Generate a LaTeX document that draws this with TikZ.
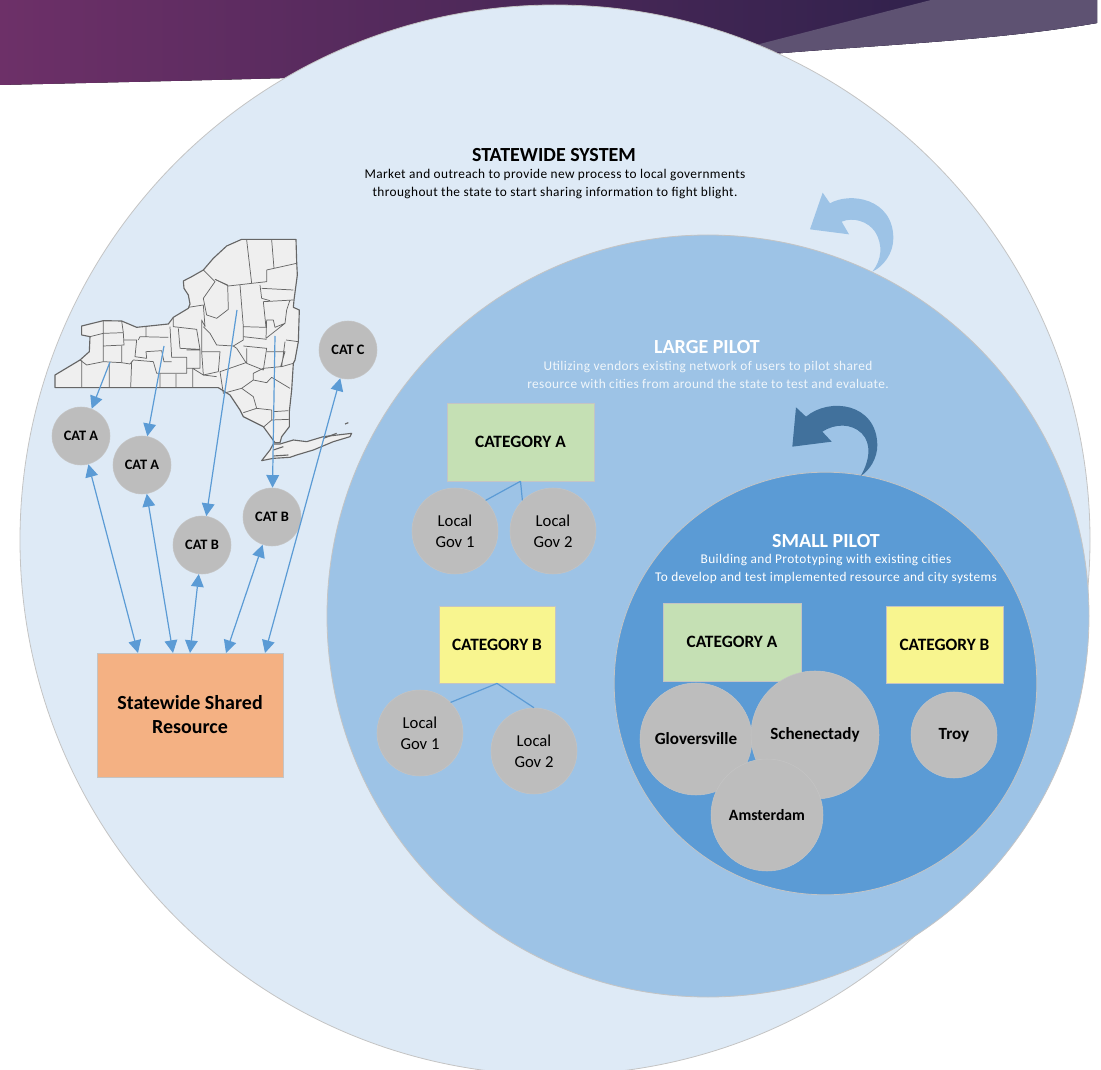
\documentclass[tikz,border=0pt]{standalone}
\usepackage{fontspec}
\usepackage{xcolor}
\setmainfont{Carlito}
\newfontfamily\spaced[LetterSpace=3]{Carlito}
\usetikzlibrary{arrows.meta}
\definecolor{outerfill}{HTML}{DEEAF6}
\definecolor{largefill}{HTML}{9DC3E6}
\definecolor{smallfill}{HTML}{5B9BD5}
\definecolor{turndark}{HTML}{41719C}
\definecolor{cirfill}{HTML}{BDBDBD}
\definecolor{ringline}{HTML}{C4C4C4}
\definecolor{catgreen}{HTML}{C5E0B4}
\definecolor{catyellow}{HTML}{F8F58F}
\definecolor{resfill}{HTML}{F4B183}
\definecolor{mapfill}{HTML}{EFEFEF}
\definecolor{mapline}{HTML}{666666}
\definecolor{bandleft}{HTML}{6D3068}
\definecolor{bandright}{HTML}{261F47}
\definecolor{bandlight}{HTML}{5E5272}
\begin{document}
\begin{tikzpicture}%
  [x=0.75pt,y=-0.75pt]
  \tikzstyle{ring node}=[circle,draw=ringline,line width=0.6pt,inner sep=0]
  \tikzstyle{cir node}=[circle,fill=cirfill,draw=ringline,line width=0.4pt,inner sep=0,align=center]
  \tikzstyle{cat node}=[cir node,minimum size=43.5pt,font=\bfseries\fontsize{10.8pt}{12pt}\selectfont]
  \tikzstyle{gov node}=[cir node,minimum size=64.5pt,font=\fontsize{12.5pt}{15.5pt}\selectfont]
  \tikzstyle{city node}=[cir node,font=\bfseries\fontsize{12.8pt}{14pt}\selectfont]
  \tikzstyle{box node}=[rectangle,draw=ringline,line width=0.4pt,inner sep=0,font=\bfseries\fontsize{13pt}{15pt}\selectfont]
  \tikzstyle{head node}=[inner sep=0,font=\bfseries\fontsize{15pt}{17pt}\selectfont]
  \tikzstyle{text node}=[inner sep=0,align=center,font=\spaced\fontsize{10pt}{13pt}\selectfont]
  \tikzstyle{link}=[draw=smallfill,line width=0.9pt]
  \tikzstyle{flow}=[link,-{Triangle[length=9.5pt,width=9.5pt]}]
  \tikzstyle{both}=[link,{Triangle[length=9.5pt,width=9.5pt]}-{Triangle[length=9.5pt,width=9.5pt]}]
  \tikzstyle{county}=[draw=mapline,line width=0.55pt,line join=round]
  \tikzstyle{border}=[draw=mapline,line width=0.85pt,line join=round]
  \useasboundingbox (0,0) rectangle (1101,1070);
  \fill[left color=bandleft,right color=bandright] (0,0) -- (1097,0) -- (1097,23) .. controls (1000,40) and (880,45) .. (783,53) .. controls (600,72) and (300,78) .. (0,85) -- cycle;
  \fill[bandlight] (931,0) -- (1097,0) -- (1097,23) .. controls (1000,40) and (880,45) .. (783,53) -- (748,47) -- cycle;
  \node(outer)[ring node,fill=outerfill,minimum size=802.5pt] at (555,540) {};
  \node(large)[ring node,fill=largefill,minimum size=571.5pt] at (708,616) {};
  \node(small)[ring node,fill=smallfill,minimum size=317pt] at (825.5,683.5) {};
  \begin{scope}[shift={(740,170)},x=0.25pt,y=-0.25pt]
    \fill[largefill] (248,68) -- (270,100) .. controls (330,65) and (460,85) .. (460,205) .. controls (460,250) and (430,290) .. (397,305) .. controls (425,270) and (430,225) .. (405,185) .. controls (385,155) and (340,140) .. (305,155) -- (327,193) -- (210,178) -- cycle;
    \fill[turndark] (168,712) -- (198,740) .. controls (270,680) and (410,700) .. (412,825) .. controls (412,865) and (390,900) .. (362,918) .. controls (390,870) and (395,820) .. (365,790) .. controls (335,760) and (285,760) .. (247,785) -- (275,815) -- (157,830) -- cycle;
  \end{scope}
  \begin{scope}[shift={(40,220)},x=0.25pt,y=-0.25pt]
    \draw[border,fill=mapfill] (45,503) -- (45,465) -- (120,420) -- (148,395) -- (150,350) -- (125,345) -- (125,318) -- (190,302) -- (245,303) -- (290,322) -- (385,312) -- (400,292) -- (445,265) -- (450,252) -- (445,225) -- (432,205) -- (430,183) -- (455,170) -- (490,150) -- (520,115) -- (560,78) -- (605,58) -- (768,58) -- (770,125) -- (772,165) -- (762,240) -- (760,262) -- (778,270) -- (775,365) -- (765,420) -- (760,430) -- (755,510) -- (748,575) -- (748,620) -- (725,650) -- (720,668) -- (705,668) -- (670,620) -- (610,590) -- (600,570) -- (570,525) -- (535,503) -- cycle;
    \draw[border,fill=mapfill] (665,722) -- (690,690) -- (700,672) -- (720,672) -- (760,660) -- (800,665) -- (850,650) -- (935,640) -- (930,650) -- (880,665) -- (820,690) -- (770,705) -- (750,712) -- (700,715) -- cycle;
    \draw[border] (915,612) -- (925,608) (700,690) -- (730,680) (700,708) -- (745,705) (850,655) -- (890,640);
    \draw[county] (125,420) -- (125,503) (208,430) -- (208,503) (275,425) -- (272,503) (360,460) -- (360,503) (408,462) -- (408,503) (458,445) -- (458,503);
    \draw[county] (120,420) -- (140,435) -- (190,425) -- (245,428) -- (270,432) -- (280,420) -- (340,425) -- (350,460) -- (440,460) -- (440,412) -- (395,412) -- (390,320);
    \draw[county] (150,350) -- (190,340) -- (250,338) -- (252,375) -- (190,378) -- (190,302) (190,378) -- (190,425) (245,303) -- (250,338) (245,378) -- (245,428);
    \draw[county] (252,360) -- (290,360) -- (285,410) -- (320,415) -- (318,395) -- (365,392) -- (372,425) -- (395,425) (295,360) -- (300,350) -- (385,352) (318,320) -- (318,350);
    \draw[county] (400,292) -- (400,320) -- (470,328) -- (480,388) -- (420,385) -- (415,325) (440,390) -- (480,390) -- (480,445) -- (440,445) (458,445) -- (490,465) -- (530,470);
    \draw[county] (445,262) -- (490,255) -- (495,320) -- (485,300) -- (485,395) -- (540,395) -- (535,455) -- (490,465) -- (485,395);
    \draw[county] (490,235) -- (525,185) -- (490,150) (490,235) -- (500,285) -- (530,295) -- (565,268) -- (563,195) -- (525,178);
    \draw[county] (490,320) -- (510,340) -- (530,375) -- (580,378) -- (610,360) -- (610,320) -- (678,322) -- (670,245) -- (760,240) (600,195) -- (610,320) (525,178) -- (565,198) -- (680,185) -- (680,150) -- (770,130) (620,60) -- (635,190) (695,60) -- (702,145);
    \draw[county] (660,195) -- (665,235) -- (690,242) (665,205) -- (760,210) (680,300) -- (678,355) -- (735,310) -- (705,322) -- (700,300) -- (680,300) (735,310) -- (740,270) -- (750,240) (738,360) -- (775,365);
    \draw[county] (610,350) -- (680,358) (610,378) -- (680,385) -- (670,450) -- (620,430) -- (620,385) (580,378) -- (590,385) -- (618,428) -- (540,455) -- (550,520) -- (605,505) -- (640,480) -- (680,488) -- (695,472) -- (750,505);
    \draw[county] (680,395) -- (735,395) -- (722,440) -- (670,445) (735,365) -- (725,440) -- (760,430) (640,480) -- (640,460) -- (670,445) (605,505) -- (640,530) -- (650,565) -- (610,578) (650,565) -- (695,570) -- (695,600) -- (672,620) (700,575) -- (745,572) (695,600) -- (748,598);
  \end{scope}
  \node(1)[cat node] at (81,436) {CAT A};
  \node(2)[cat node] at (142,465) {CAT A};
  \node(3)[cat node] at (202,545) {CAT B};
  \node(4)[cat node] at (272,517) {CAT B};
  \node(5)[cat node] at (348,350) {CAT C};
  \node(res)[box node,fill=resfill,minimum width=139.5pt,minimum height=93pt,align=center,font=\bfseries\fontsize{15pt}{18pt}\selectfont] at (190,715) {Statewide Shared\\Resource};
  \coordinate (m1) at (110,362);
  \coordinate (m2) at (164,346);
  \coordinate (m3) at (237,310);
  \coordinate (m4) at (275,336);
  \coordinate (r1) at (138,653);
  \coordinate (r2) at (173,653);
  \coordinate (r3) at (190,653);
  \coordinate (r4) at (226,653);
  \coordinate (r5) at (265,653);
  \draw[flow] (m1) -- (1);
  \draw[flow] (m2) -- (2);
  \draw[flow] (m3) -- (3);
  \draw[flow] (m4) -- (4);
  \draw[both] (1) -- (r1);
  \draw[both] (2) -- (r2);
  \draw[both] (3) -- (r3);
  \draw[both] (4) -- (r4);
  \draw[both] (5) -- (r5);
  \node(t0)[head node] at (554,155) {STATEWIDE SYSTEM};
  \node(t1)[text node] at (555,184) {Market and outreach to provide new process to local governments\\throughout the state to start sharing information to fight blight.};
  \node(t2)[head node,text=white] at (707,347) {LARGE PILOT};
  \node(t3)[text node,text=white!85!largefill] at (708,375) {Utilizing vendors existing network of users to pilot shared\\resource with cities from around the state to test and evaluate.};
  \node(t4)[head node,text=white] at (826,541) {SMALL PILOT};
  \node(t5)[text node,text=white] at (826,569) {Building and Prototyping with existing cities\\To develop and test implemented resource and city systems};
  \node(a)[box node,fill=catgreen,minimum width=110pt,minimum height=58.5pt] at (520.5,442) {CATEGORY A};
  \node(b)[box node,fill=catyellow,minimum width=87pt,minimum height=58pt] at (497,644.5) {CATEGORY B};
  \node(a1)[gov node] at (455,531) {Local\\Gov 1};
  \node(a2)[gov node] at (553,531) {Local\\Gov 2};
  \node(b1)[gov node] at (420,733) {Local\\Gov 1};
  \node(b2)[gov node] at (534,751) {Local\\Gov 2};
  \draw[link] (a.south) -- (a1.north east);
  \draw[link] (a.south) -- (a2.north west);
  \draw[link] (b.south) -- (b1.north east);
  \draw[link] (b.south) -- (b2.north);
  \node(c)[box node,fill=catgreen,minimum width=103.5pt,minimum height=58.5pt] at (732,642) {CATEGORY A};
  \node(d)[box node,fill=catyellow,minimum width=87.5pt,minimum height=58pt] at (944.5,644.5) {CATEGORY B};
  \node(c1)[city node,minimum size=84pt] at (696,739) {Gloversville};
  \node(c2)[city node,minimum size=96pt] at (815,735) {Schenectady};
  \node(c3)[city node,minimum size=84pt,font=\bfseries\fontsize{11.8pt}{14pt}\selectfont] at (767,815) {Amsterdam};
  \node(d1)[city node,minimum size=64.5pt] at (954,735) {Troy};
\end{tikzpicture}
\end{document}
